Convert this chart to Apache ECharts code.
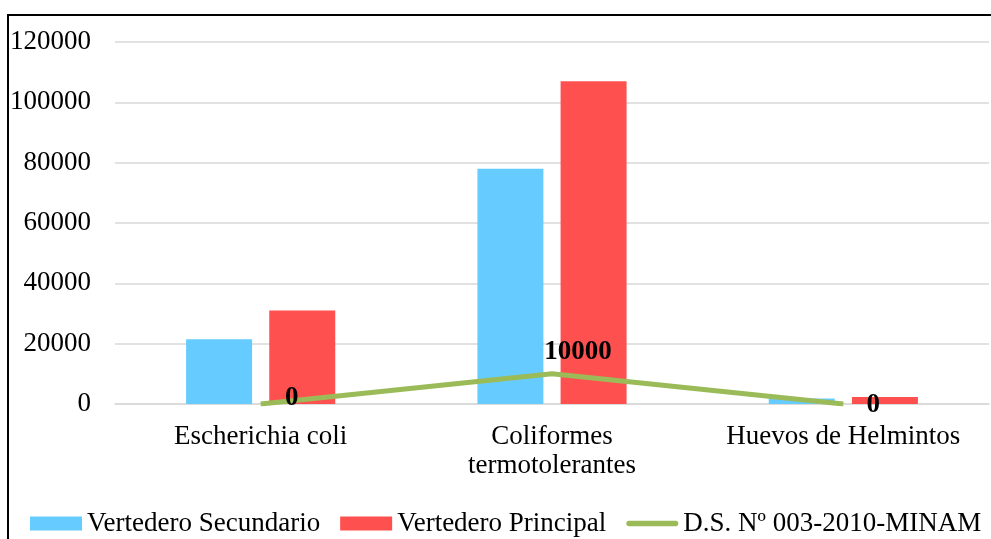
<!DOCTYPE html>
<html>
<head>
<meta charset="utf-8">
<script src="https://cdn.jsdelivr.net/npm/echarts@6/dist/echarts.min.js"></script>
<style>
  html, body { margin: 0; padding: 0; background: #fff; }
  #chart { width: 991px; height: 539px; }
</style>
</head>
<body>
<div id="chart"></div>
<script>
// Categories and measured values
const categories = ['Escherichia coli', 'Coliformes\ntermotolerantes', 'Huevos de Helmintos'];
const seriesNames = ['Vertedero Secundario', 'Vertedero Principal', 'D.S. Nº 003-2010-MINAM'];
const secundario = [21500, 78000, 1800];
const principal = [31000, 107000, 2300];
const limite = [0, 10000, 0];
const yTicks = [0, 20000, 40000, 60000, 80000, 100000, 120000];

const FONT = 'Liberation Serif';
const FS = 27;

// Label placement for the limit line (pixel offsets from each point)
const limitLabelOffsets = [[31, -6], [26, -22], [30, 1]];

const chart = echarts.init(document.getElementById('chart'));

chart.setOption({
  animation: false,
  textStyle: { fontFamily: FONT },
  graphic: [{
    type: 'rect',
    shape: { x: 8, y: 15, width: 1000, height: 600 },
    style: { fill: 'none', stroke: '#000', lineWidth: 2 },
    silent: true, z: 100
  }],
  grid: { left: 115, right: 2, top: 42, bottom: 135 },
  legend: {
    left: 25,
    top: 505,
    width: 1200,
    itemWidth: 52,
    itemHeight: 14,
    itemGap: 20,
    textStyle: { fontFamily: FONT, fontSize: 27, color: '#000' },
    data: [
      { name: seriesNames[0], icon: 'rect' },
      { name: seriesNames[1], icon: 'rect' },
      { name: seriesNames[2], icon: 'path://M3,0 L55,0 A3,3 0 0 1 55,6 L3,6 A3,3 0 0 1 3,0 Z' }
    ]
  },
  xAxis: {
    type: 'category',
    data: categories,
    axisLine: { lineStyle: { color: '#d9d9d9', width: 1.5 } },
    axisTick: { show: false },
    axisLabel: {
      color: '#000', fontFamily: FONT, fontSize: FS, lineHeight: 29, margin: 18,
      interval: 0
    }
  },
  yAxis: {
    type: 'value',
    min: 0,
    max: yTicks[yTicks.length - 1],
    interval: yTicks[1] - yTicks[0],
    axisLine: { show: false },
    axisTick: { show: false },
    splitLine: { lineStyle: { color: '#d9d9d9', width: 1.5 } },
    axisLabel: {
      color: '#000', fontFamily: FONT, fontSize: FS, margin: 24,
      formatter: v => String(v)
    }
  },
  series: [
    {
      name: seriesNames[0],
      type: 'bar',
      data: secundario,
      barWidth: 66,
      barGap: '26%',
      itemStyle: { color: '#66CCFF' }
    },
    {
      name: seriesNames[1],
      type: 'bar',
      data: principal,
      barWidth: 66,
      barGap: '26%',
      itemStyle: { color: '#FF5050' }
    },
    {
      name: seriesNames[2],
      type: 'line',
      data: limite.map((v, i) => ({
        value: v,
        label: { offset: limitLabelOffsets[i] }
      })),
      symbol: 'circle',
      symbolSize: 0.1,
      showSymbol: true,
      itemStyle: { color: '#9BBB59' },
      lineStyle: { color: '#9BBB59', width: 5 },
      z: 5,
      label: {
        show: true,
        position: 'inside',
        color: '#000',
        fontFamily: FONT,
        fontSize: FS,
        fontWeight: 'bold'
      }
    }
  ]
});
</script>
</body>
</html>
